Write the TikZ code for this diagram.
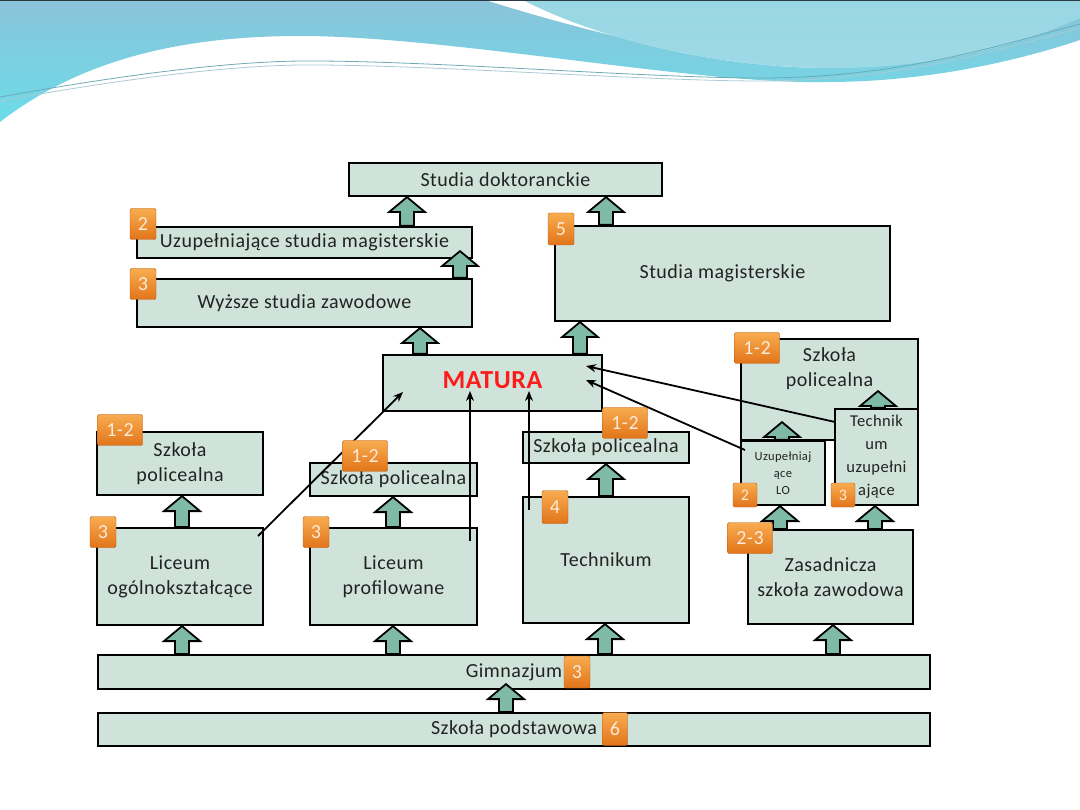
\documentclass[tikz,border=0pt]{standalone}
\usepackage{fontspec}
\setmainfont{Carlito}[LetterSpace=2.5]
\usetikzlibrary{arrows.meta,calc,positioning}
\definecolor{BoxFill}{HTML}{CFE3DA}
\definecolor{ArrFill}{HTML}{7FBAA6}
\definecolor{BadgeTop}{HTML}{F8AC50}
\definecolor{BadgeBot}{HTML}{E2741A}
\definecolor{BadgeText}{HTML}{FCEBD8}
\definecolor{WaveDark}{HTML}{8AC3DA}
\definecolor{WaveCyan}{HTML}{6CDCE8}
\definecolor{WaveLight}{HTML}{9DDAE6}
\definecolor{WaveLine}{HTML}{6FA9B5}
\definecolor{MaturaRed}{HTML}{FF1A1A}
\definecolor{BoxText}{HTML}{222222}

\tikzset{
  schoolbox/.style={draw=black, line width=2.2pt, fill=BoxFill, inner sep=0pt,
    align=center, text=BoxText, font=\fontsize{20}{25}\selectfont},
  badge/.style={draw=BadgeBot!80!black, line width=0.4pt, rounded corners=1.5pt,
    top color=BadgeTop, bottom color=BadgeBot, text=BadgeText, inner sep=0pt,
    minimum width=26pt, minimum height=31pt, font=\fontsize{20}{22}\selectfont},
  widebadge/.style={badge, minimum width=45pt},
  smallbadge/.style={badge, minimum width=24pt, minimum height=24pt, font=\fontsize{16}{18}\selectfont},
  fatarr/.style={draw=black, line width=1.8pt, fill=ArrFill, line join=miter},
  thinarr/.style={line width=1.8pt, -{Stealth[length=10pt,width=8pt]}},
}

% fat up arrow: [overlap]{x}{from}{to}
\newcommand{\fatup}[4][0]{%
  \path (#2,0 |- #3.north) coordinate (fb) (#2,0 |- #4.south) coordinate (ft);
  \draw[fatarr] let \p1=(fb), \p2=(ft) in
    (\x1-7pt,\y1) -- (\x1-7pt,\y2+#1pt-15pt) -- (\x1-18pt,\y2+#1pt-15pt)
    -- (\x1,\y2+#1pt) -- (\x1+18pt,\y2+#1pt-15pt) -- (\x1+7pt,\y2+#1pt-15pt)
    -- (\x1+7pt,\y1) -- cycle;
}

\begin{document}
\begin{tikzpicture}[x=1pt,y=-1pt]
  \useasboundingbox (0,0) rectangle (1080,810);
  \fill[white] (0,0) rectangle (1080,810);

  % header wave
  \shade[top color=WaveDark, bottom color=WaveCyan]
    (0,0) -- (1080,0) -- (1080,40) .. controls (1020,60) and (930,82) .. (826,82)
    .. controls (700,85) and (450,36) .. (300,36)
    .. controls (180,36) and (80,60) .. (0,122) -- cycle;
  \fill[white] (482,-1) -- (523,-1) .. controls (600,40) and (720,68) .. (832,68)
    .. controls (720,64) and (600,36) .. (482,-1) -- cycle;
  \shade[top color=WaveLight!80!WaveDark, bottom color=WaveLight]
    (523,0) -- (1080,0) -- (1080,18) .. controls (1030,40) and (950,68) .. (832,68)
    .. controls (720,68) and (600,40) .. (523,0) -- cycle;
  \draw[WaveLine, line width=0.8pt] (0,97) .. controls (150,70) and (250,60) .. (320,61)
    .. controls (450,62) and (650,78) .. (760,78) .. controls (900,78) and (1000,45) .. (1080,24);
  \draw[WaveLine!60!white, line width=0.8pt] (0,101) .. controls (150,74) and (250,64) .. (320,65)
    .. controls (450,66) and (650,81) .. (760,81) .. controls (900,81) and (1000,49) .. (1080,28);
  \fill[black!70!WaveDark] (0,0) rectangle (1080,1.5);

  % boxes
  \node[schoolbox, minimum width=313pt, minimum height=33pt] (dokt) at (505.5,179.5) {Studia doktoranckie};
  \node[schoolbox, minimum width=335pt, minimum height=31pt] (uzmag) at (304.5,242.5) {Uzupełniające studia magisterskie};
  \node[schoolbox, minimum width=335pt, minimum height=48pt] (wyzsze) at (304.5,303) {Wyższe studia zawodowe};
  \node[schoolbox, minimum width=335pt, minimum height=95pt] (mag) at (722.5,273.5) {Studia magisterskie};
  \node[schoolbox, minimum width=219pt, minimum height=56pt, text=MaturaRed,
    font=\fontsize{26}{30}\selectfont\bfseries] (matura) at (492.5,383) {\raisebox{6pt}{MATURA}};
  \node[schoolbox, minimum width=177pt, minimum height=101pt] (polR) at (829.5,389.5) {};
  \node[align=center, inner sep=0pt, text=BoxText, font=\fontsize{20}{25}\selectfont] (polRt) at (829.5,369) {Szkoła\\policealna};
  \node[schoolbox, minimum width=166pt, minimum height=63pt] (polL) at (180,463.5) {Szkoła\\policealna};
  \node[schoolbox, minimum width=167pt, minimum height=33pt] (polM) at (393.5,479.5) {Szkoła policealna};
  \node[schoolbox, minimum width=166pt, minimum height=97pt] (licO) at (180,576.5) {Liceum\\ogólnokształcące};
  \node[schoolbox, minimum width=167pt, minimum height=97pt] (licP) at (393.5,576.5) {Liceum\\profilowane};
  \node[schoolbox, minimum width=166pt, minimum height=31pt] (polT) at (606,447.5) {Szkoła policealna};
  \node[schoolbox, minimum width=166pt, minimum height=126pt] (tech) at (606,560) {Technikum};
  \node[schoolbox, minimum width=165pt, minimum height=94pt] (zsz) at (830.5,577) {Zasadnicza\\szkoła zawodowa};
  \node[schoolbox, minimum width=832pt, minimum height=34pt] (gim) at (514,672) {Gimnazjum};
  \node[schoolbox, minimum width=832pt, minimum height=33pt] (podst) at (514,729.5) {Szkoła podstawowa};
  \node[schoolbox, minimum width=84pt, minimum height=64pt, font=\fontsize{12.5}{17}\selectfont] (uzLO) at (783,473) {Uzupełniaj\\ące\\LO};
  \node[schoolbox, minimum width=83pt, minimum height=96pt, font=\fontsize{16.5}{23}\selectfont] (techU) at (876.5,457) {Technik\\um\\uzupełni\\ające};

  % fat arrows
  \fatup{407}{uzmag}{dokt}
  \fatup{606}{mag}{dokt}
  \fatup[8]{460}{wyzsze}{uzmag}
  \fatup{420}{matura}{wyzsze}
  \fatup{580}{matura}{mag}
  \fatup[19]{782}{uzLO}{polR}
  \fatup[50]{878}{techU}{polR}
  \fatup{182}{licO}{polL}
  \fatup{393}{licP}{polM}
  \fatup{606}{tech}{polT}
  \fatup{780}{zsz}{uzLO}
  \fatup{875}{zsz}{techU}
  \fatup{182}{gim}{licO}
  \fatup{393}{gim}{licP}
  \fatup{605}{gim}{tech}
  \fatup{833}{gim}{zsz}
  \fatup[6]{506}{podst}{gim}

  % routes to matura
  \coordinate (licOout) at (258,536);
  \coordinate (licPout) at (470,541);
  \coordinate (techout) at (529,510);
  \coordinate (uzLOout) at (745,450);
  \coordinate (techUout) at (835,422);
  \coordinate (matin1) at (403,392);
  \coordinate (matin2) at (470,391);
  \coordinate (matin3) at (529,391);
  \coordinate (matin4) at (586,380);
  \coordinate (matin5) at (586,366);
  \draw[thinarr] (licOout) -- (matin1);
  \draw[thinarr] (licPout) -- (matin2);
  \draw[thinarr] (techout) -- (matin3);
  \draw[thinarr] (uzLOout) -- (matin4);
  \draw[thinarr] (techUout) -- (matin5);

  % years
  \node[badge] (yUzmag) at (143,224) {2};
  \node[badge] (yWyz) at (143,284) {3};
  \node[badge, minimum height=32pt] (yMag) at (561,229) {5};
  \node[widebadge] (yPolR) at (757,348) {1-2};
  \node[smallbadge] (yUzLO) at (745,495) {2};
  \node[smallbadge] (yTechU) at (843,495) {3};
  \node[widebadge] (yPolL) at (120,430) {1-2};
  \node[widebadge] (yPolM) at (365,456) {1-2};
  \node[badge] (yLicO) at (103,532) {3};
  \node[badge] (yLicP) at (316,532) {3};
  \node[widebadge] (yPolT) at (625,423) {1-2};
  \node[badge, minimum height=33pt] (yTech) at (555,507) {4};
  \node[widebadge] (yZsz) at (750,538) {2-3};
  \node[badge, minimum height=32pt] (yGim) at (577,672) {3};
  \node[badge, minimum width=25pt, minimum height=33pt] (yPodst) at (615,729) {6};
\end{tikzpicture}
\end{document}
